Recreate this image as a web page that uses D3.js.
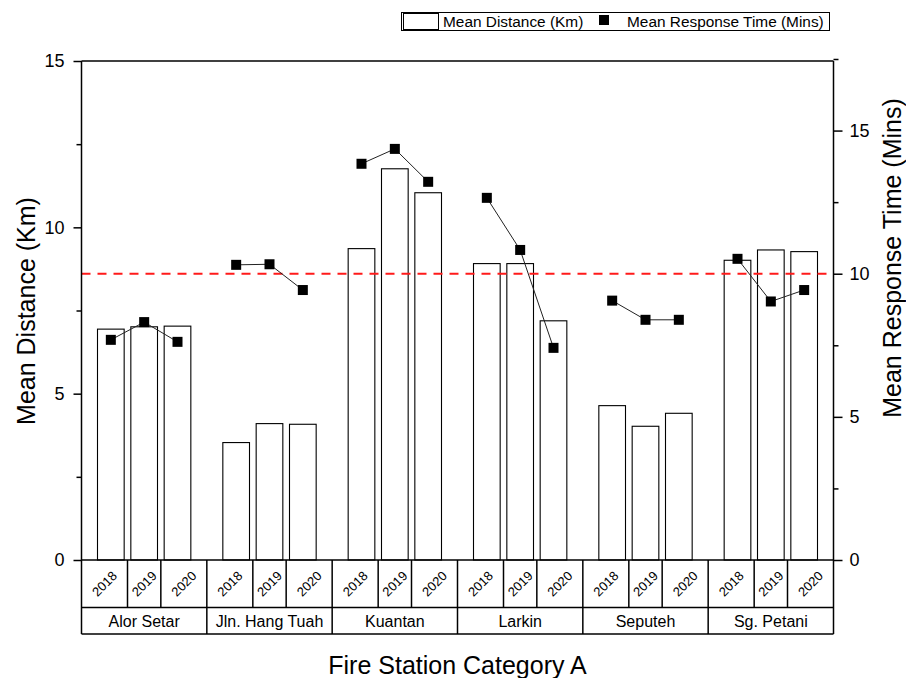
<!DOCTYPE html>
<html>
<head>
<meta charset="utf-8">
<script src="https://cdn.jsdelivr.net/npm/d3@7"></script>
<style>
  html, body { margin: 0; padding: 0; background: #fff; }
  svg { display: block; font-family: "Liberation Sans", Arial, sans-serif; }
</style>
</head>
<body>
<svg id="chart" width="906" height="678"></svg>
<script>
// Fire stations (category A) and survey years
const groups = ["Alor Setar", "Jln. Hang Tuah", "Kuantan", "Larkin", "Seputeh", "Sg. Petani"];
const years = ["2018", "2019", "2020"];

// Mean distance (km) per station, one value per year
const meanDistance = [
  [6.94, 7.01, 7.03],
  [3.53, 4.10, 4.08],
  [9.36, 11.76, 11.04],
  [8.91, 8.91, 7.19],
  [4.64, 4.02, 4.41],
  [9.01, 9.32, 9.27]
];

// Mean response time (minutes) per station, one value per year
const meanResponse = [
  [7.69, 8.31, 7.62],
  [10.31, 10.33, 9.43],
  [13.84, 14.36, 13.21],
  [12.65, 10.83, 7.41],
  [9.06, 8.39, 8.39],
  [10.52, 9.03, 9.43]
];

// Response-time target line (minutes)
const responseTarget = 10;

const leftTicks = [0, 5, 10, 15];
const leftMinor = [2.5, 7.5, 12.5];
const rightTicks = [0, 5, 10, 15];
const rightMinor = [2.5, 7.5, 12.5, 17.5];

const FONT = "'Liberation Sans', Arial, sans-serif";
const svg = d3.select("#chart");
const plot = { left: 81.5, right: 833.5, top: 61, bottom: 560 };
const yearRowBottom = 607.5, groupRowBottom = 634;

// Scales
const xGroup = d3.scaleBand().domain(groups).range([plot.left, plot.right]).padding(0);
const xYear = d3.scaleBand().domain(years).range([0, xGroup.bandwidth()])
  .paddingInner(0.2).paddingOuter(0.48);
const yL = d3.scaleLinear().domain([0, 15]).range([plot.bottom, plot.top]);
const yR = d3.scaleLinear().domain([0, 17.43]).range([plot.bottom, plot.top]);

const barCenter = (gi, yi) => xGroup(groups[gi]) + xYear(years[yi]) + xYear.bandwidth() / 2;

// Flattened records
const records = [];
groups.forEach((g, gi) => years.forEach((yr, yi) => {
  records.push({ g, gi, yr, yi, dist: meanDistance[gi][yi], resp: meanResponse[gi][yi] });
}));

// Bars (mean distance)
svg.append("g").selectAll("rect").data(records).join("rect")
  .attr("x", d => xGroup(d.g) + xYear(d.yr))
  .attr("y", d => yL(d.dist))
  .attr("width", xYear.bandwidth())
  .attr("height", d => yL(0) - yL(d.dist))
  .attr("fill", "#fff")
  .attr("stroke", "#000")
  .attr("stroke-width", 1.1);

// Target line
svg.append("line")
  .attr("x1", plot.left).attr("x2", plot.right)
  .attr("y1", yR(responseTarget)).attr("y2", yR(responseTarget))
  .attr("stroke", "#ff1a1a").attr("stroke-width", 2)
  .attr("stroke-dasharray", "9,7");

// Response-time lines, one per station
const line = d3.line().x(d => barCenter(d.gi, d.yi)).y(d => yR(d.resp));
svg.append("g").selectAll("path").data(groups.map((g, gi) => records.filter(r => r.gi === gi)))
  .join("path")
  .attr("d", line)
  .attr("fill", "none")
  .attr("stroke", "#222")
  .attr("stroke-width", 1);

// Response-time markers
const ms = 10;
svg.append("g").selectAll("rect").data(records).join("rect")
  .attr("x", d => barCenter(d.gi, d.yi) - ms / 2)
  .attr("y", d => yR(d.resp) - ms / 2)
  .attr("width", ms).attr("height", ms)
  .attr("fill", "#000");

// Axes
function styleAxis(g) {
  g.attr("font-family", FONT);
  g.selectAll("path.domain").remove();
  g.selectAll("line").attr("stroke", "#000").attr("stroke-width", 1.5);
  g.selectAll("text").attr("font-size", 18).attr("fill", "#000");
}
svg.append("g").attr("transform", `translate(${plot.left},0)`)
  .call(d3.axisLeft(yL).tickValues(leftTicks).tickSize(8).tickPadding(9).tickFormat(d3.format("d")))
  .call(styleAxis);
svg.append("g").attr("transform", `translate(${plot.left},0)`)
  .call(d3.axisLeft(yL).tickValues(leftMinor).tickSize(5).tickFormat(""))
  .call(styleAxis);
svg.append("g").attr("transform", `translate(${plot.right},0)`)
  .call(d3.axisRight(yR).tickValues(rightTicks).tickSize(9).tickPadding(7).tickFormat(d3.format("d")))
  .call(styleAxis);
svg.append("g").attr("transform", `translate(${plot.right},0)`)
  .call(d3.axisRight(yR).tickValues(rightMinor).tickSize(5).tickFormat(""))
  .call(styleAxis);

// Frame
const frame = svg.append("g").attr("stroke", "#000").attr("stroke-width", 1.5).attr("fill", "none");
frame.append("line").attr("x1", plot.left).attr("x2", plot.right).attr("y1", plot.top).attr("y2", plot.top);
frame.append("line").attr("x1", plot.left).attr("x2", plot.left).attr("y1", plot.top).attr("y2", groupRowBottom);
frame.append("line").attr("x1", plot.right).attr("x2", plot.right).attr("y1", plot.top).attr("y2", groupRowBottom);
frame.append("line").attr("x1", plot.left).attr("x2", plot.right).attr("y1", plot.bottom).attr("y2", plot.bottom);
frame.append("line").attr("x1", plot.left).attr("x2", plot.right).attr("y1", yearRowBottom).attr("y2", yearRowBottom);
frame.append("line").attr("x1", plot.left).attr("x2", plot.right).attr("y1", groupRowBottom).attr("y2", groupRowBottom);

// Category table: year dividers and station dividers
const table = svg.append("g").attr("stroke", "#000").attr("stroke-width", 1.5);
groups.forEach((g, gi) => {
  if (gi > 0) {
    table.append("line").attr("x1", xGroup(g)).attr("x2", xGroup(g))
      .attr("y1", plot.bottom).attr("y2", groupRowBottom);
  }
  [0, 1].forEach(yi => {
    const xm = (barCenter(gi, yi) + barCenter(gi, yi + 1)) / 2;
    table.append("line").attr("x1", xm).attr("x2", xm)
      .attr("y1", plot.bottom).attr("y2", yearRowBottom);
  });
});

// Year labels (rotated), centred in their cells
const yearCellCenter = (gi, yi) => {
  const g0 = xGroup(groups[gi]), g1 = g0 + xGroup.bandwidth();
  const b = [g0, (barCenter(gi, 0) + barCenter(gi, 1)) / 2, (barCenter(gi, 1) + barCenter(gi, 2)) / 2, g1];
  return (b[yi] + b[yi + 1]) / 2;
};
svg.append("g").selectAll("text").data(records).join("text")
  .attr("transform", d => `translate(${yearCellCenter(d.gi, d.yi)},${(plot.bottom + yearRowBottom) / 2}) rotate(-45)`)
  .attr("text-anchor", "middle").attr("dy", "0.35em")
  .attr("font-size", 13).attr("fill", "#000")
  .text(d => d.yr);

// Station labels
svg.append("g").selectAll("text").data(groups).join("text")
  .attr("x", g => xGroup(g) + xGroup.bandwidth() / 2)
  .attr("y", (yearRowBottom + groupRowBottom) / 2)
  .attr("dy", "0.36em").attr("text-anchor", "middle")
  .attr("font-size", 16).attr("fill", "#000")
  .text(g => g);

// Axis titles
svg.append("text")
  .attr("transform", `translate(35,311) rotate(-90)`)
  .attr("text-anchor", "middle").attr("font-size", 25).attr("fill", "#000")
  .text("Mean Distance (Km)");
svg.append("text")
  .attr("transform", `translate(901,258) rotate(-90)`)
  .attr("text-anchor", "middle").attr("font-size", 25).attr("fill", "#000")
  .text("Mean Response Time (Mins)");
svg.append("text")
  .attr("x", (plot.left + plot.right) / 2).attr("y", 674)
  .attr("text-anchor", "middle").attr("font-size", 25).attr("fill", "#000")
  .text("Fire Station Category A");

// Legend
const lg = svg.append("g");
lg.append("rect").attr("x", 401.5).attr("y", 12.5).attr("width", 428).attr("height", 18)
  .attr("fill", "#fff").attr("stroke", "#000").attr("stroke-width", 1);
lg.append("rect").attr("x", 403.5).attr("y", 13.5).attr("width", 35).attr("height", 16)
  .attr("fill", "#fff").attr("stroke", "#000").attr("stroke-width", 1);
lg.append("text").attr("x", 443).attr("y", 27).attr("font-size", 15.4).attr("fill", "#000")
  .text("Mean Distance (Km)");
lg.append("rect").attr("x", 599).attr("y", 15).attr("width", 10).attr("height", 10).attr("fill", "#000");
lg.append("text").attr("x", 627).attr("y", 27).attr("font-size", 15.4).attr("fill", "#000")
  .text("Mean Response Time (Mins)");
</script>
</body>
</html>
